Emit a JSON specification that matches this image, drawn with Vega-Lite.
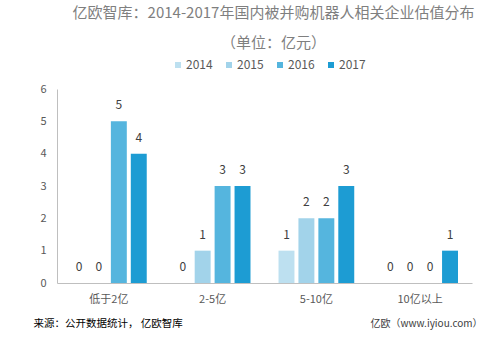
{
  "$schema": "https://vega.github.io/schema/vega-lite/v6.json",
  "width": 415,
  "height": 194,
  "autosize": {"type": "none"},
  "padding": {"left": 57, "top": 89, "right": 27, "bottom": 54},
  "background": "white",
  "title": {
    "text": "亿欧智库：2014-2017年国内被并购机器人相关企业估值分布",
    "subtitle": "（单位：亿元）",
    "anchor": "middle",
    "frame": "group",
    "dx": 9,
    "offset": 8,
    "font": "Noto Sans CJK SC",
    "fontSize": 15,
    "fontWeight": "normal",
    "color": "#7f7f7f",
    "subtitleFont": "Noto Sans CJK SC",
    "subtitleFontSize": 15,
    "subtitleColor": "#7f7f7f",
    "subtitlePadding": 15
  },
  "config": {
    "view": {"stroke": null},
    "font": "Noto Sans CJK SC",
    "axis": {"labelFont": "Noto Sans CJK SC", "titleFont": "Noto Sans CJK SC"},
    "legend": {"labelFont": "Noto Sans CJK SC"}
  },
  "data": {
    "values": [
      {"cat": "低于2亿", "year": "2014", "n": 0},
      {"cat": "低于2亿", "year": "2015", "n": 0},
      {"cat": "低于2亿", "year": "2016", "n": 5},
      {"cat": "低于2亿", "year": "2017", "n": 4},
      {"cat": "2-5亿", "year": "2014", "n": 0},
      {"cat": "2-5亿", "year": "2015", "n": 1},
      {"cat": "2-5亿", "year": "2016", "n": 3},
      {"cat": "2-5亿", "year": "2017", "n": 3},
      {"cat": "5-10亿", "year": "2014", "n": 1},
      {"cat": "5-10亿", "year": "2015", "n": 2},
      {"cat": "5-10亿", "year": "2016", "n": 2},
      {"cat": "5-10亿", "year": "2017", "n": 3},
      {"cat": "10亿以上", "year": "2014", "n": 0},
      {"cat": "10亿以上", "year": "2015", "n": 0},
      {"cat": "10亿以上", "year": "2016", "n": 0},
      {"cat": "10亿以上", "year": "2017", "n": 1}
    ]
  },
  "encoding": {
    "x": {
      "field": "cat",
      "type": "nominal",
      "sort": null,
      "scale": {"paddingInner": 0.27, "paddingOuter": 0.135},
      "axis": {
        "labelAngle": 0,
        "ticks": false,
        "domainColor": "#bfbfbf",
        "labelColor": "#595959",
        "labelFontSize": 11,
        "labelPadding": 10,
        "title": "来源：公开数据统计， 亿欧智库",
        "titleAnchor": "start",
        "titleAlign": "left",
        "titleBaseline": "middle",
        "titleX": -24,
        "titleY": 40,
        "titleFontSize": 10.5,
        "titleFontWeight": "normal",
        "titleColor": "#000000"
      }
    },
    "xOffset": {
      "field": "year",
      "type": "nominal",
      "scale": {"paddingInner": 0.2, "paddingOuter": 0}
    },
    "y": {
      "field": "n",
      "type": "quantitative",
      "scale": {"domain": [0, 6]},
      "axis": {
        "values": [0, 1, 2, 3, 4, 5, 6],
        "grid": false,
        "ticks": false,
        "domainColor": "#bfbfbf",
        "labelColor": "#595959",
        "labelFontSize": 11,
        "labelPadding": 11,
        "title": "亿欧（www.iyiou.com）",
        "titleAngle": 0,
        "titleAlign": "left",
        "titleBaseline": "middle",
        "titleX": 313,
        "titleY": 234,
        "titleFontSize": 10,
        "titleFontWeight": "normal",
        "titleColor": "#404040"
      }
    }
  },
  "layer": [
    {
      "mark": {"type": "bar"},
      "encoding": {
        "color": {
          "field": "year",
          "type": "nominal",
          "scale": {
            "domain": ["2014", "2015", "2016", "2017"],
            "range": ["#bde0f0", "#a2d3ea", "#55b5de", "#1d9cd3"]
          },
          "legend": {
            "orient": "none",
            "legendX": 115,
            "legendY": -30,
            "direction": "horizontal",
            "title": null,
            "symbolType": "square",
            "symbolSize": 36,
            "symbolStrokeWidth": 0,
            "labelFontSize": 12,
            "labelOffset": 2,
            "labelColor": "#595959",
            "columnPadding": 10
          }
        }
      }
    },
    {
      "mark": {"type": "text", "baseline": "bottom", "dy": -9, "fontSize": 12, "color": "#404040"},
      "encoding": {"text": {"field": "n", "type": "quantitative"}}
    }
  ]
}
